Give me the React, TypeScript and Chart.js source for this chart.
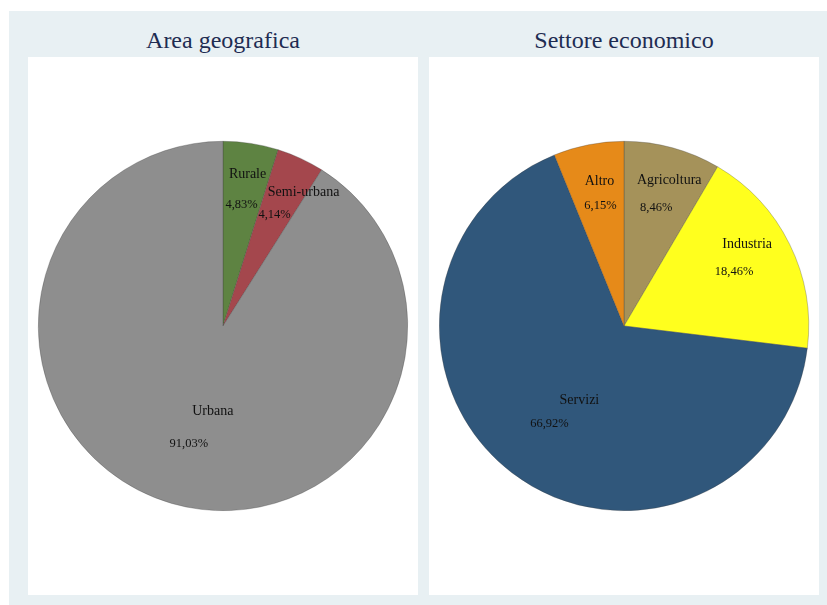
import React, { useEffect, useRef } from "react";
import { Chart, registerables } from "chart.js";

Chart.register(...registerables);

const areaTitle = "Area geografica";
const areaLabels = ["Rurale", "Semi-urbana", "Urbana"];
const areaValues = [4.83, 4.14, 91.03];
const areaColors = ["#5e8342", "#a4474d", "#8e8e8e"];
const areaNameShiftX = [6, 29, 24];
const areaNameShiftY = [-30, -22, -33];

const sectorTitle = "Settore economico";
const sectorLabels = ["Agricoltura", "Industria", "Servizi", "Altro"];
const sectorValues = [8.46, 18.46, 66.92, 6.15];
const sectorColors = ["#a5925a", "#ffff1e", "#30577b", "#e68a19"];
const sectorNameShiftX = [13, 13, 30, -1];
const sectorNameShiftY = [-27, -27, -23, -24];

const fmt = (v: number) => v.toFixed(2).replace(".", ",") + "%";

const labelPlugin = {
  id: "sliceLabels",
  afterDatasetsDraw(chart: any) {
    const { ctx } = chart;
    const meta = chart.getDatasetMeta(0);
    const ds = chart.data.datasets[0];
    const sx: number[] = chart.options.plugins.sliceLabels.shiftX;
    const sy: number[] = chart.options.plugins.sliceLabels.shiftY;
    ctx.save();
    ctx.fillStyle = "#111";
    ctx.textAlign = "center";
    ctx.textBaseline = "middle";
    meta.data.forEach((arc: any, i: number) => {
      const p = arc.getProps(["x", "y", "startAngle", "endAngle", "outerRadius"], true);
      const mid = (p.startAngle + p.endAngle) / 2;
      const r = p.outerRadius * 0.665;
      const px = p.x + Math.cos(mid) * r;
      const py = p.y + Math.sin(mid) * r;
      ctx.font = "12.5px 'Liberation Serif', 'DejaVu Serif', serif";
      ctx.fillText(fmt(ds.data[i]), px, py);
      ctx.font = "14px 'Liberation Serif', 'DejaVu Serif', serif";
      ctx.fillText(chart.data.labels[i], px + sx[i], py + sy[i]);
    });
    ctx.restore();
  },
};

function PieChart(props: {
  labels: string[];
  values: number[];
  colors: string[];
  shiftX: number[];
  shiftY: number[];
}) {
  const ref = useRef<HTMLCanvasElement>(null);
  useEffect(() => {
    const chart = new Chart(ref.current as HTMLCanvasElement, {
      type: "pie",
      data: {
        labels: props.labels,
        datasets: [
          {
            data: props.values,
            backgroundColor: props.colors,
            borderColor: "rgba(60,60,60,0.5)",
            borderWidth: 0.6,
          },
        ],
      },
      options: {
        animation: false,
        responsive: false,
        maintainAspectRatio: false,
        layout: { padding: 10 },
        plugins: {
          legend: { display: false },
          tooltip: { enabled: false },
          sliceLabels: { shiftX: props.shiftX, shiftY: props.shiftY },
        } as any,
      },
      plugins: [labelPlugin],
    });
    return () => chart.destroy();
  }, []);
  return <canvas ref={ref} width={390} height={538} style={{ display: "block" }} />;
}

const titleStyle: React.CSSProperties = {
  position: "absolute",
  top: 25,
  width: 390,
  textAlign: "center",
  fontFamily: "'Liberation Serif', 'DejaVu Serif', serif",
  fontSize: 24,
  color: "#1e2c52",
  lineHeight: "30px",
};

export default function App() {
  return (
    <div style={{ position: "fixed", left: 0, top: 0, width: 827, height: 605, background: "#ffffff", overflow: "hidden" }}>
      <div style={{ position: "absolute", left: 9, top: 11, width: 830, height: 600, background: "#e8f0f3" }} />
      <div style={{ ...titleStyle, left: 28 }}>{areaTitle}</div>
      <div style={{ ...titleStyle, left: 429 }}>{sectorTitle}</div>
      <div style={{ position: "absolute", left: 28, top: 57, width: 390, height: 538, background: "#fff" }}>
        <PieChart labels={areaLabels} values={areaValues} colors={areaColors} shiftX={areaNameShiftX} shiftY={areaNameShiftY} />
      </div>
      <div style={{ position: "absolute", left: 429, top: 57, width: 390, height: 538, background: "#fff" }}>
        <PieChart labels={sectorLabels} values={sectorValues} colors={sectorColors} shiftX={sectorNameShiftX} shiftY={sectorNameShiftY} />
      </div>
    </div>
  );
}
